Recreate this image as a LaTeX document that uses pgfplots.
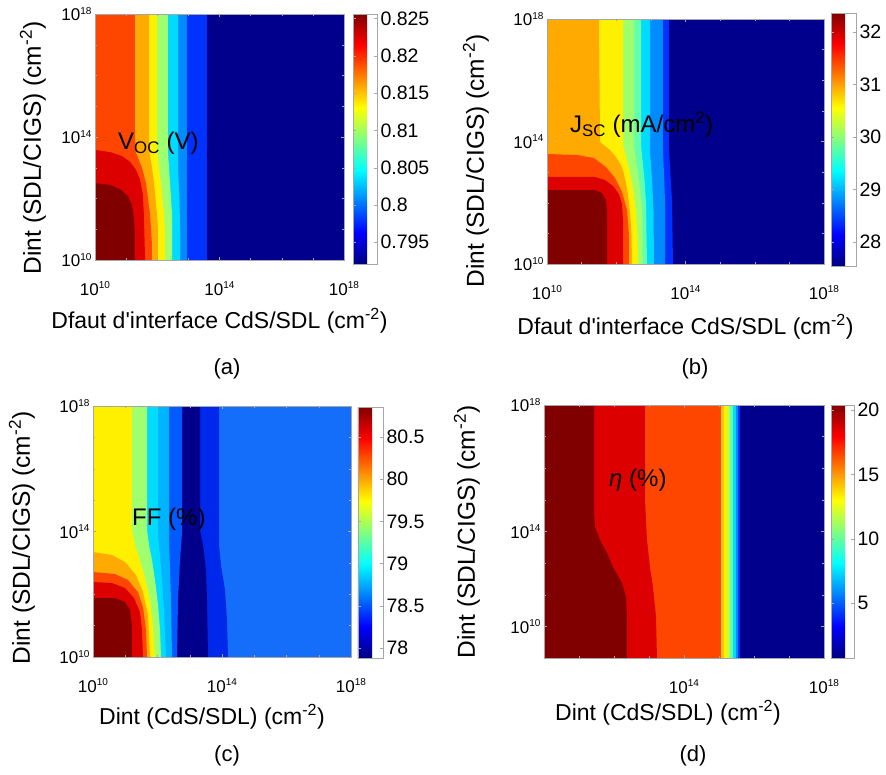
\documentclass[border=0pt]{standalone}
\usepackage{pgfplots}
\pgfplotsset{compat=1.18}
\usepackage{fontspec}
\setmainfont{Liberation Sans}
\definecolor{cNavy}{RGB}{0,0,140}
\definecolor{cBlue}{RGB}{0,50,255}
\definecolor{cSky}{RGB}{0,140,255}
\definecolor{cCyan}{RGB}{0,220,255}
\definecolor{cAqua}{RGB}{100,255,170}
\definecolor{cGreen}{RGB}{160,255,110}
\definecolor{cLime}{RGB}{190,255,70}
\definecolor{cYellow}{RGB}{255,240,0}
\definecolor{cGold}{RGB}{255,200,0}
\definecolor{cOrange}{RGB}{255,170,0}
\definecolor{cOrRed}{RGB}{255,70,0}
\definecolor{cRed}{RGB}{220,0,0}
\definecolor{cDark}{RGB}{128,0,0}
\definecolor{cMed}{RGB}{20,110,250}
\definecolor{cBlueTwo}{RGB}{0,40,235}
\definecolor{cBlueC}{RGB}{0,90,255}
\definecolor{cLBlue}{RGB}{0,180,255}
\newcommand{\tp}[1]{10\raisebox{6.5pt}{\fontsize{10}{10}\selectfont #1}}
\pgfplotsset{colorbar shift/.style={}}
\pgfplotsset{
  panel/.style={scale only axis, xmin=10, xmax=18, ymin=10, ymax=18, axis on top,
    tick align=inside, major tick length=3pt, minor tick length=2pt,
    tick style={gray!70, line width=0.4pt}, axis line style={gray!70, line width=0.6pt},
    ticklabel style={font=\fontsize{17}{20}\selectfont},
    xticklabel style={anchor=base, yshift=-35pt},
    no markers, colorbar, colormap/jet},
  cbar/.style={colorbar style={at={(parent axis.north east)}, anchor=north west,
    scale only axis, tick align=inside, major tick length=3pt, minor y tick num=0,
    tick style={gray!70}, axis line style={gray!70},
    yticklabel style={font=\fontsize{19.5}{22}\selectfont, anchor=west, xshift=0pt, yshift=0pt}, #1}},
  reg/.style={fill=#1, draw=none, forget plot}
}
\begin{document}
\begin{tikzpicture}
\useasboundingbox (0,0) rectangle (886pt,-775pt);
% ---------------- (a) ----------------
\begin{axis}[panel, at={(95pt,-260pt)}, anchor=south west, width=249pt, height=246pt,
  xtick={10,14,18}, xticklabels={\tp{10},\tp{14},\tp{18}},
  ytick={10,14,18}, yticklabels={\tp{10},\tp{14},\tp{18}}, minor tick num=3,
  point meta min=0.79209, point meta max=0.82558,
  cbar={xshift=9pt, yshift=0pt, width=24pt, height=250pt,
    ytick={0.795,0.8,0.805,0.81,0.815,0.82,0.825},
    yticklabels={0.795,0.8,0.805,0.81,0.815,0.82,0.825}}]
\addplot[reg=cNavy] coordinates {(10,10)(18,10)(18,18)(10,18)};
\addplot[reg=cBlue] coordinates {(10,10)(13.6,10)(13.6,18)(10,18)};
\addplot[reg=cSky] coordinates {(10,10)(12.96,10)(12.96,18)(10,18)};
\addplot[reg=cCyan] coordinates {(10,18)(12.667,18)(12.667,13)(12.715,12)(12.731,11)(12.731,10)(10,10)};
\addplot[reg=cGreen] coordinates {(10,18)(12.345,18)(12.345,13.5)(12.378,13)(12.41,12.5)(12.442,12)(12.474,11.5)(12.474,10)(10,10)};
\addplot[reg=cYellow] coordinates {(10,18)(11.992,18)(11.992,14)(12.008,13.5)(12.056,13)(12.121,12.5)(12.169,12)(12.217,11.5)(12.249,11)(12.249,10)(10,10)};
\addplot[reg=cOrange] coordinates {(10,18)(11.735,18)(11.735,14)(11.751,13.5)(11.831,13)(11.896,12.5)(11.944,12)(11.992,11.5)(12.024,11)(12.024,10)(10,10)};
\addplot[reg=cOrRed] coordinates {(10,18)(11.285,18)(11.285,14)(11.317,13.5)(11.51,13)(11.639,12.5)(11.703,12)(11.767,11.5)(11.799,11)(11.831,10.5)(11.831,10)(10,10)};
\addplot[reg=cRed] coordinates {(10,10)(10,13.58)(10.48,13.51)(10.87,13.38)(11.13,13.19)(11.32,12.93)(11.45,12.6)(11.54,12.11)(11.57,11.46)(11.61,10)};
\addplot[reg=cDark] coordinates {(10,10)(10,12.5)(10.48,12.44)(10.8,12.31)(11.06,12.08)(11.19,11.79)(11.25,11.37)(11.285,10.81)(11.285,10)};
\end{axis}
% ---------------- (b) ----------------
\begin{axis}[panel, at={(547pt,-264pt)}, anchor=south west, width=277pt, height=245pt,
  xtick={10,14,18}, xticklabels={\tp{10},\tp{14},\tp{18}},
  ytick={10,14,18}, yticklabels={\tp{10},\tp{14},\tp{18}}, minor tick num=3,
  point meta min=27.54, point meta max=32.36,
  cbar={xshift=7pt, yshift=6pt, width=25pt, height=253pt,
    ytick={28,29,30,31,32}, yticklabels={28,29,30,31,32}}]
\addplot[reg=cNavy] coordinates {(10,10)(18,10)(18,18)(10,18)};
\addplot[reg=cBlue] coordinates {(10,18)(13.523,18)(13.523,13.722)(13.61,12.09)(13.639,10)(10,10)};
\addplot[reg=cSky] coordinates {(10,18)(13.35,18)(13.35,13.722)(13.408,12.09)(13.408,10)(10,10)};
\addplot[reg=cCyan] coordinates {(10,18)(12.975,18)(12.975,13.722)(13.032,12.743)(13.076,11.763)(13.09,10)(10,10)};
\addplot[reg=cAqua] coordinates {(10,18)(12.715,18)(12.715,13.885)(12.758,13.396)(12.816,12.743)(12.859,11.992)(12.888,10)(10,10)};
\addplot[reg=cGreen] coordinates {(10,18)(12.513,18)(12.513,13.885)(12.556,13.494)(12.628,13.004)(12.686,12.481)(12.729,11.992)(12.758,11.502)(12.772,10)(10,10)};
\addplot[reg=cYellow] coordinates {(10,18)(12.195,18)(12.195,13.885)(12.282,13.494)(12.397,13.004)(12.484,12.481)(12.541,11.992)(12.585,11.502)(12.614,11.012)(12.628,10)(10,10)};
\addplot[reg=cOrange] coordinates {(10,18)(11.502,18)(11.531,13.983)(11.819,13.722)(11.993,13.494)(12.137,13.232)(12.209,13.004)(12.31,12.481)(12.368,11.992)(12.411,11.502)(12.44,11.012)(12.455,10)(10,10)};
\addplot[reg=cOrRed] coordinates {(10,10)(10,13.592)(10.866,13.559)(11.357,13.461)(11.704,13.167)(11.964,12.808)(12.166,12.351)(12.31,11.763)(12.368,10.947)(12.368,10)};
\addplot[reg=cRed] coordinates {(10,10)(10,12.841)(11.386,12.841)(11.675,12.743)(11.906,12.547)(12.079,12.286)(12.166,11.959)(12.195,11.437)(12.195,10)};
\addplot[reg=cDark] coordinates {(10,10)(10,12.416)(11.386,12.416)(11.588,12.318)(11.704,12.09)(11.733,11.763)(11.733,10)};
\end{axis}
% ---------------- (c) ----------------
\begin{axis}[panel, at={(93pt,-657pt)}, anchor=south west, width=258pt, height=251pt,
  xtick={10,14,18}, xticklabels={\tp{10},\tp{14},\tp{18}},
  ytick={10,14,18}, yticklabels={\tp{10},\tp{14},\tp{18}}, minor tick num=3,
  point meta min=77.88, point meta max=80.855,
  cbar={xshift=7pt, yshift=-1pt, width=25pt, height=251pt,
    ytick={78,78.5,79,79.5,80,80.5}, yticklabels={78,78.5,79,79.5,80,80.5}}]
\addplot[reg=cMed] coordinates {(10,10)(18,10)(18,18)(10,18)};
\addplot[reg=cBlueTwo] coordinates {(10,18)(13.907,18)(13.907,13.569)(13.969,12.932)(14.093,12.135)(14.155,11.179)(14.186,10)(10,10)};
\addplot[reg=cNavy] coordinates {(10,18)(13.318,18)(13.318,14.047)(13.411,13.569)(13.504,12.773)(13.535,11.817)(13.566,10)(10,10)};
\addplot[reg=cBlueC] coordinates {(10,18)(12.76,18)(12.76,13.952)(12.698,13.091)(12.636,11.817)(12.605,10)(10,10)};
\addplot[reg=cLBlue] coordinates {(10,18)(12.357,18)(12.357,13.729)(12.388,12.773)(12.419,11.817)(12.45,10)(10,10)};
\addplot[reg=cCyan] coordinates {(10,18)(12.016,18)(12.016,13.888)(12.078,13.219)(12.14,12.454)(12.202,11.498)(12.264,10)(10,10)};
\addplot[reg=cGreen] coordinates {(10,18)(11.675,18)(11.675,14.047)(11.737,13.569)(11.83,13.091)(11.923,12.454)(12.016,11.657)(12.078,10.86)(12.109,10)(10,10)};
\addplot[reg=cYellow] coordinates {(10,18)(11.209,18)(11.209,14.047)(11.302,13.569)(11.457,13.091)(11.613,12.518)(11.768,11.817)(11.861,11.02)(11.923,10)(10,10)};
\addplot[reg=cOrange] coordinates {(10,10)(10,13.346)(10.589,13.251)(10.992,13.028)(11.333,12.613)(11.55,12.072)(11.706,11.339)(11.768,10)};
\addplot[reg=cOrRed] coordinates {(10,10)(10,12.709)(10.682,12.645)(11.085,12.454)(11.395,12.072)(11.55,11.594)(11.644,10.86)(11.675,10)};
\addplot[reg=cRed] coordinates {(10,10)(10,12.39)(10.589,12.358)(10.992,12.199)(11.271,11.88)(11.457,11.434)(11.519,10.86)(11.55,10)};
\addplot[reg=cDark] coordinates {(10,10)(10,11.88)(10.682,11.88)(10.992,11.753)(11.147,11.498)(11.209,11.02)(11.209,10)};
\end{axis}
% ---------------- (d) ----------------
\begin{axis}[panel, at={(544pt,-658pt)}, anchor=south west, width=280pt, height=253pt,
  xtick={14,18}, xticklabels={\tp{14},\tp{18}}, minor xtick={11,12,13,15,16,17},
  ytick={11,14,18}, yticklabels={\tp{10},\tp{14},\tp{18}}, minor ytick={12,13,15,16,17},
  point meta min=0.74, point meta max=20.39,
  cbar={xshift=7pt, yshift=0pt, width=23pt, height=253pt,
    ytick={5,10,15,20}, yticklabels={5,10,15,20}}]
\addplot[reg=cNavy] coordinates {(10,10)(18,10)(18,18)(10,18)};
\addplot[reg=cBlue] coordinates {(10,10)(15.614,10)(15.614,18)(10,18)};
\addplot[reg=cSky] coordinates {(10,10)(15.557,10)(15.557,18)(10,18)};
\addplot[reg=cCyan] coordinates {(10,10)(15.486,10)(15.486,18)(10,18)};
\addplot[reg=cAqua] coordinates {(10,10)(15.4,10)(15.4,18)(10,18)};
\addplot[reg=cLime] coordinates {(10,10)(15.314,10)(15.314,18)(10,18)};
\addplot[reg=cYellow] coordinates {(10,10)(15.228,10)(15.228,18)(10,18)};
\addplot[reg=cGold] coordinates {(10,10)(15.129,10)(15.129,18)(10,18)};
\addplot[reg=cOrRed] coordinates {(10,10)(15.057,10)(15.057,18)(10,18)};
\addplot[reg=cRed] coordinates {(10,18)(12.886,18)(12.886,14.996)(12.914,14.364)(12.943,13.731)(13.028,12.877)(13.114,12.245)(13.2,11.296)(13.228,10)(10,10)};
\addplot[reg=cDark] coordinates {(10,18)(11.429,18)(11.429,14.617)(11.457,14.142)(11.6,13.731)(11.8,13.32)(11.971,12.877)(12.228,12.372)(12.343,11.929)(12.371,11.296)(12.371,10)(10,10)};
\end{axis}
% ---------------- texts ----------------
\def\xl{\fontsize{23}{27}\selectfont}
\def\yl{\fontsize{24.5}{28}\selectfont}
\def\il{\fontsize{24}{28}\selectfont}
\def\pl{\fontsize{22}{26}\selectfont}
\node[font=\xl] at (219.5pt,-321pt) {Dfaut d\textquotesingle interface CdS/SDL (cm\textsuperscript{-2})};
\node[font=\xl] at (685.5pt,-327pt) {Dfaut d\textquotesingle interface CdS/SDL (cm\textsuperscript{-2})};
\node[font=\xl] at (212pt,-717pt) {Dint (CdS/SDL) (cm\textsuperscript{-2})};
\node[font=\xl] at (668pt,-713pt) {Dint (CdS/SDL) (cm\textsuperscript{-2})};
\node[font=\yl, rotate=90] at (33pt,-148pt) {Dint (SDL/CIGS) (cm\textsuperscript{-2})};
\node[font=\yl, rotate=90] at (476pt,-161pt) {Dint (SDL/CIGS) (cm\textsuperscript{-2})};
\node[font=\yl, rotate=90] at (22pt,-538pt) {Dint (SDL/CIGS) (cm\textsuperscript{-2})};
\node[font=\yl, rotate=90] at (467pt,-532pt) {Dint (SDL/CIGS) (cm\textsuperscript{-2})};
\node[font=\pl] at (227pt,-369pt) {(a)};
\node[font=\pl] at (695pt,-369pt) {(b)};
\node[font=\pl] at (227pt,-756pt) {(c)};
\node[font=\pl] at (693pt,-756pt) {(d)};
\node[font=\il, anchor=base west, inner sep=0pt] at (118pt,-150pt) {V\textsubscript{OC} (V)};
\node[font=\il, anchor=base west, inner sep=0pt] at (570pt,-133pt) {J\textsubscript{SC} (mA/cm\textsuperscript{2})};
\node[font=\il, anchor=base west, inner sep=0pt] at (132pt,-525pt) {FF (\%)};
\node[font=\il, anchor=base west, inner sep=0pt] at (609pt,-486pt) {{\itshape η} (\%)};
\end{tikzpicture}
\end{document}
